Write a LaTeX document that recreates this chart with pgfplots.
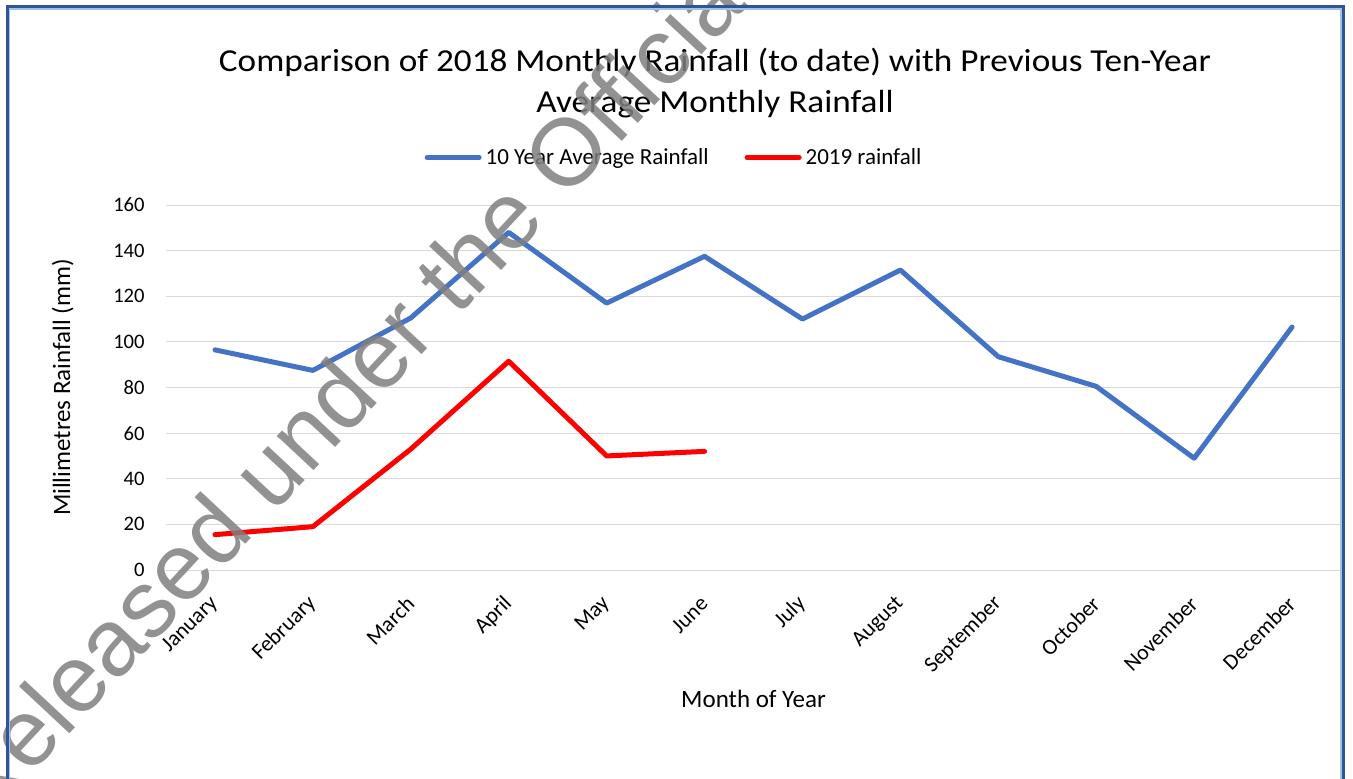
\documentclass[border=0pt]{standalone}
\usepackage{fontspec}
\setmainfont{Carlito}
\newfontfamily\wmfont{Liberation Sans}
\usepackage{graphicx}
\usepackage{pgfplots}
\pgfplotsset{compat=1.18}
\definecolor{avgblue}{HTML}{4472C4}
\definecolor{rainred}{HTML}{FF0000}
\definecolor{gridgrey}{HTML}{D9D9D9}
\definecolor{framedark}{HTML}{2F5597}
\definecolor{framelight}{HTML}{9DC3E6}
\begin{document}
\begin{tikzpicture}[x=1pt,y=1pt]
\useasboundingbox (0,0) rectangle (676.5,389);
\fill[white] (0,0) rectangle (676.5,389);
\begin{axis}[
  at={(83pt,104pt)}, anchor=south west,
  scale only axis, width=587.5pt, height=182.5pt,
  xmin=-0.5, xmax=11.5, ymin=0, ymax=160,
  xtick={0,1,2,3,4,5,6,7,8,9,10,11},
  xticklabels={January,February,March,April,May,June,July,August,September,October,November,December},
  ytick={0,20,40,60,80,100,120,140,160},
  ymajorgrids, grid style={gridgrey, line width=0.5pt},
  axis line style={draw=none},
  major tick length=0pt,
  /pgf/number format/assume math mode=true,
  yticklabel style={font=\fontsize{10.3}{12}\selectfont, anchor=east, inner sep=0pt, xshift=-10.5pt},
  xticklabel style={font=\fontsize{11}{13}\selectfont, yshift=-15pt, rotate=45, anchor=east, inner sep=0pt},
  xlabel={Month of Year},
  ylabel={Millimetres Rainfall (mm)},
  label style={font=\fontsize{12.5}{14}\selectfont},
  xlabel style={at={(axis description cs:0.5,-0.378)}, anchor=base},
  ylabel style={at={(axis description cs:-0.0817,0.5)}, anchor=base},
  legend columns=2,
  legend style={draw=none, fill=none, at={(0.4332,1.13)}, anchor=center,
    font=\fontsize{11.5}{13}\selectfont,
    /tikz/every even column/.append style={column sep=16pt}},
  legend image code/.code={\draw[#1] (0pt,0pt) -- (26pt,0pt);},
]
\addplot[avgblue, line width=2.5pt, line join=round, line cap=round] coordinates {
(0,96.5) (1,87.5) (2,110.5) (3,148) (4,117) (5,137.5) (6,110) (7,131.5) (8,93.5) (9,80.5) (10,49) (11,106.5)};
\addlegendentry{10 Year Average Rainfall}
\addplot[rainred, line width=2.5pt, line join=round, line cap=round] coordinates {
(0,15.5) (1,19) (2,53) (3,91.5) (4,50) (5,52)};
\addlegendentry{2019 rainfall}
\end{axis}
\node[anchor=base, font=\fontsize{16}{19}\selectfont] at (357.5,353) {\scalebox{1.1}[1]{Comparison of 2018 Monthly Rainfall (to date) with Previous Ten-Year}};
\node[anchor=base, font=\fontsize{16}{19}\selectfont] at (357.5,332.5) {\scalebox{1.1}[1]{Average Monthly Rainfall}};
\node[rotate=47, anchor=base west, inner sep=0pt, text=gray, opacity=0.85, font=\wmfont\fontsize{47.5}{56}\selectfont] at (-9,-24.7) {Released under the Official Information Act};
\draw[framedark, line width=1.5pt] (3.5,-10) -- (3.5,385.75) -- (671.9,385.75) -- (671.9,-10);
\draw[framelight, line width=0.75pt] (4.65,-10) -- (4.65,384.6) -- (670.6,384.6) -- (670.6,-10);
\end{tikzpicture}
\end{document}
